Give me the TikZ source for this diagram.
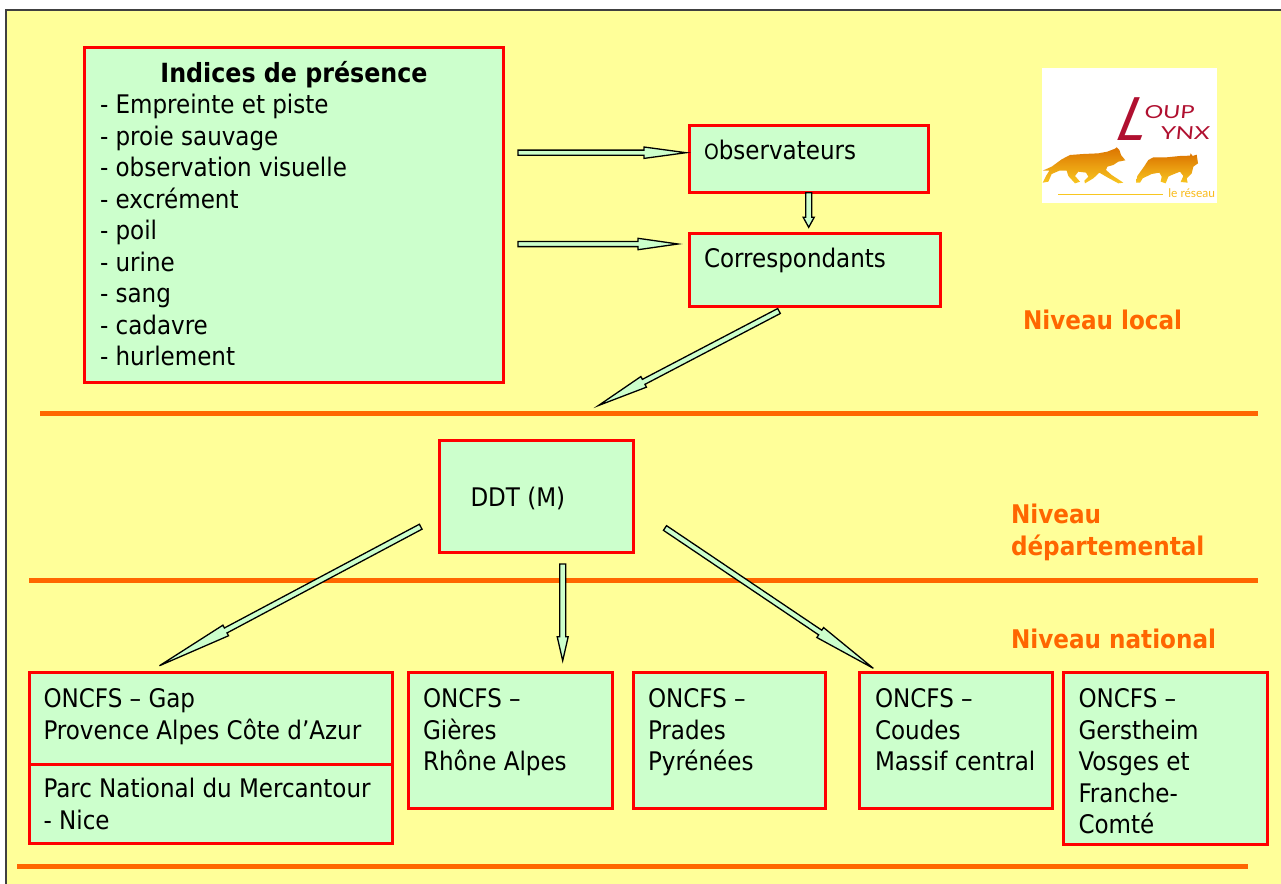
\documentclass[tikz,border=0pt]{standalone}
\usepackage{fontspec}
\setmainfont{DejaVu Sans Condensed}
\newfontfamily\logofont{Lato}
\usetikzlibrary{calc}
\definecolor{bgy}{HTML}{FFFF99}
\definecolor{boxg}{HTML}{CCFFCC}
\definecolor{redb}{HTML}{FF0000}
\definecolor{orng}{HTML}{FF6600}
\definecolor{logored}{HTML}{B01030}
\definecolor{logogold}{HTML}{F8C620}
\definecolor{logotop}{HTML}{DC7400}
\tikzset{
  boxn/.style={draw=redb,fill=boxg,line width=3bp,inner sep=0,outer sep=0,anchor=north west},
  txt/.style={anchor=north west,inner sep=0,outer sep=0,align=left,text=black,yshift=21.2bp,
    font=\fontsize{25.7}{31.6}\selectfont},
  lev/.style={txt,text=orng,font=\fontsize{25.8}{31.6}\selectfont\bfseries},
  rule/.style={draw=orng,line width=5bp},
  blockarr/.style={draw=black,fill=boxg,line width=1.3bp,line join=miter},
  logotxt/.style={inner sep=0,outer sep=0,text=logored,anchor=base west,font=\logofont\fontsize{18}{18}\selectfont}
}
\newcommand{\boxat}[5]{%
  \pgfmathsetmacro{\bw}{#4-#2}\pgfmathsetmacro{\bh}{#5-#3}%
  \node[boxn,minimum width=\bw bp,minimum height=\bh bp] (#1) at (#2,#3) {};}
\newcommand{\blockarrow}[5]{% start, tip, head length, shaft half, head half
  \coordinate (hh) at ($(#2)!#3 bp!(#1)$);
  \path[blockarr] ($(#1)!#4 bp!90:(#2)$) -- ($(hh)!#4 bp!90:(#2)$) -- ($(hh)!#5 bp!90:(#2)$)
    -- (#2) -- ($(hh)!#5 bp!-90:(#2)$) -- ($(hh)!#4 bp!-90:(#2)$) -- ($(#1)!#4 bp!-90:(#2)$) -- cycle;}
\begin{document}
\begin{tikzpicture}[x=1bp,y=-1bp]
\useasboundingbox (0,0) rectangle (1281,884);
\fill[white] (0,0) rectangle (1281,884);
\fill[bgy] (6,10) rectangle (1281,884);
\draw[color=black!75,line width=1.5bp] (6,884) -- (6,10) -- (1281,10);
% rules
\coordinate (r1a) at (40,413); \coordinate (r1b) at (1258,413);
\coordinate (r2a) at (29,580); \coordinate (r2b) at (1258,580);
\coordinate (r3a) at (17,866); \coordinate (r3b) at (1248,866);
\draw[rule] (r1a) -- (r1b);
\draw[rule] (r2a) -- (r2b);
\draw[rule] (r3a) -- (r3b);
% boxes
\boxat{indices}{84.5}{47.5}{503}{382}
\boxat{obs}{689.5}{125.5}{928}{192}
\boxat{corr}{689.5}{233}{940}{306.5}
\boxat{ddt}{439}{440.5}{633}{552.5}
\boxat{gap}{29}{672.5}{392.5}{764}
\boxat{parc}{29}{764}{392.5}{843}
\boxat{gieres}{408}{672.5}{612.5}{808.5}
\boxat{prades}{633.5}{672.5}{825.5}{808.5}
\boxat{coudes}{859.5}{672.5}{1052}{808.5}
\boxat{gerst}{1063.5}{672.5}{1267.5}{844.5}
% texts
\node[txt,anchor=north,font=\fontsize{26.5}{31.6}\selectfont\bfseries] (t0) at (294,82) {\strut Indices de présence};
\node[txt] (t1) at (100,113) {\strut - Empreinte et piste\\- proie sauvage\\- observation visuelle\\- excrément\\- poil\\- urine\\- sang\\- cadavre\\- hurlement};
\node[txt] (t2) at (704,159) {\strut {\fontsize{21}{31.6}\selectfont O}bservateurs};
\node[txt] (t3) at (704,267) {\strut Correspondants};
\node[txt] (t4) at (470.5,506) {\strut DDT (M)};
\node[txt] (t5) at (43.5,707) {\strut ONCFS – Gap\\Provence Alpes Côte d’Azur};
\node[txt] (t6) at (43.5,797) {\strut Parc National du Mercantour\\- Nice};
\node[txt] (t7) at (423,707) {\strut ONCFS –\\Gières\\Rhône Alpes};
\node[txt] (t8) at (648,707) {\strut ONCFS –\\Prades\\Pyrénées};
\node[txt] (t9) at (875,707) {\strut ONCFS –\\Coudes\\Massif central};
\node[txt] (t10) at (1078.5,707) {\strut ONCFS –\\Gerstheim\\Vosges et\\Franche-\\Comté};
\node[lev] (l1) at (1023,329) {\strut Niveau local};
\node[lev] (l2) at (1011,523) {\strut Niveau\\départemental};
\node[lev] (l3) at (1011,648) {\strut Niveau national};
% arrows
\coordinate (a1s) at (518,152.7); \coordinate (a1t) at (686,152.7);
\coordinate (a2s) at (518,244); \coordinate (a2t) at (678,244);
\coordinate (a3s) at (779,311); \coordinate (a3t) at (598.5,405.5);
\coordinate (a4s) at (420.7,526.7); \coordinate (a4t) at (159.5,665.7);
\coordinate (a5s) at (562.7,564); \coordinate (a5t) at (562.7,660.7);
\coordinate (a6s) at (665,528); \coordinate (a6t) at (873.3,668.3);
\coordinate (a7s) at (808.7,192.7); \coordinate (a7t) at (808.7,227.3);
\blockarrow{a1s}{a1t}{42}{2.6}{5.7}
\blockarrow{a2s}{a2t}{40}{2.6}{5.7}
\blockarrow{a3s}{a3t}{51}{2.8}{6}
\blockarrow{a4s}{a4t}{75}{2.8}{6}
\blockarrow{a5s}{a5t}{24}{3}{5.5}
\blockarrow{a6s}{a6t}{64}{2.8}{6}
\blockarrow{a7s}{a7t}{10}{3}{5.5}
% logo
\begin{scope}[xshift=1020bp,yshift=-50bp,x=0.33333bp,y=-0.33333bp]
\fill[white] (66,54) rectangle (590,458);
\path[top color=logotop,bottom color=logogold,shading angle=0]
 (68,362)--(95,350)--(125,328)--(150,315)--(190,312)--(235,310)--(262,305)--(285,296)--(290,292)--(298,300)--(303,315)--(316,331)--(295,335)--(280,345)--(262,350)--(258,360)--(275,375)--(310,398)--(295,400)--(262,382)--(238,368)--(220,385)--(195,400)--(193,392)--(205,380)--(198,368)--(175,365)--(165,378)--(180,395)--(165,400)--(145,378)--(140,362)--(118,362)--(95,372)--(85,395)--(68,398)--(78,378)--(88,362)--cycle;
\path[top color=logotop,bottom color=logogold,shading angle=0]
 (348,398)--(352,378)--(372,350)--(385,330)--(400,322)--(440,322)--(480,318)--(510,317)--(512,310)--(518,318)--(530,314)--(534,340)--(520,350)--(515,370)--(500,385)--(503,398)--(482,396)--(490,378)--(480,365)--(455,375)--(445,380)--(437,400)--(422,395)--(425,380)--(418,368)--(395,372)--(368,385)--(360,398)--cycle;
\coordinate (lga) at (115,434); \coordinate (lgb) at (430,434);
\draw[logogold,line width=1.3bp] (lga) -- (lgb);
\node[inner sep=0,outer sep=0,anchor=base west,text=logogold!85!orange,font=\logofont\fontsize{12}{12}\selectfont] (lg4) at (445,442) {le réseau};
\node[logotxt,font=\logofont\fontsize{60}{60}\selectfont,xslant=.4,xscale=.95] (lg1) at (278,271) {L};
\node[logotxt,xslant=.1,xscale=1.3] (lg2) at (372,205) {OUP};
\node[logotxt,xslant=.1,xscale=1.35] (lg3) at (420,270) {YNX};
\end{scope}
\end{tikzpicture}
\end{document}
